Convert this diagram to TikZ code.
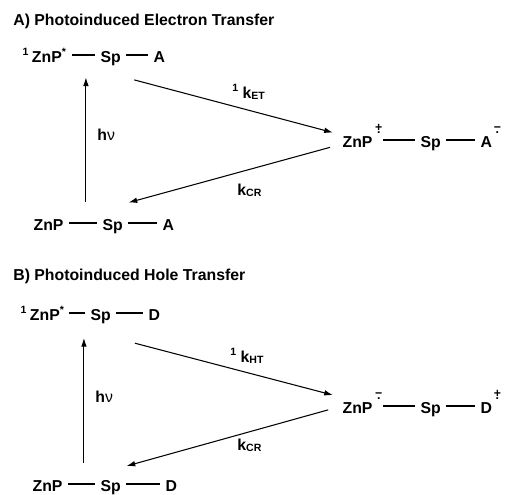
\documentclass[tikz,border=0pt]{standalone}
\usepackage{fontspec}
\setmainfont{Liberation Sans}
\usetikzlibrary{arrows.meta,positioning,calc}
% sign over dot for the radical ions
\newcommand{\radsup}[1]{\ooalign{\hfil\raisebox{9pt}{\scriptsize #1}\hfil\cr\hfil\raisebox{7.5pt}{\scriptsize .}\hfil\cr}}
\newcommand{\exZnP}{\textsuperscript{1}\kern1.5pt ZnP\textsuperscript{*}}
\tikzset{
  mol/.style={anchor=base west,inner xsep=3pt,inner ysep=0pt,text height=8pt,text depth=0pt,font=\fontsize{9}{11}\selectfont\bfseries},
  lbl/.style={anchor=base west,inner sep=0pt,font=\fontsize{9}{11}\selectfont\bfseries},
  bond/.style={line width=0.6pt},
  rate/.style={line width=0.6pt,-{Latex[length=5pt,width=3.2pt]}},
}

\begin{document}
\begin{tikzpicture}[x=0.02cm,y=-0.02cm]
  \useasboundingbox (0,0) rectangle (509,494);
  % A) electron transfer
  \node[lbl] (ttlA) at (13,25) {A) Photoinduced Electron Transfer};
  \node[mol] (aZnPex) at (17,62) {\exZnP};
  \node[mol] (aSpex) at (95,62) {Sp};
  \node[mol] (aAex) at (148,62) {A};
  \node[mol] (aZnPcs) at (337,147) {ZnP\kern1.5pt\radsup{+}};
  \node[mol] (aSpcs) at (415,147) {Sp};
  \node[mol] (aAcs) at (475,147) {A\kern1pt\radsup{−}};
  \node[mol] (aZnPg) at (28,230) {ZnP};
  \node[mol] (aSpg) at (97,230) {Sp};
  \node[mol] (aAg) at (157,230) {A};
  \node[lbl] (hvA) at (97,140) {h{\mdseries ν}};
  \node[lbl] (kETA) at (232,98) {\textsuperscript{1}\kern2pt k\textsubscript{ET}};
  \node[lbl] (kCRA) at (237,195) {k\textsubscript{CR}};
  \draw[rate] ($(hvA.west |- aZnPg.north)+(-6.3pt,8pt)$) -- ($(hvA.west |- aZnPex.south)+(-6.3pt,-8.5pt)$);
  \draw[rate] ([shift={(4.5pt,-10pt)}]aSpex.south east) -- ([xshift=-2.3pt]aZnPcs.north west);
  \draw[rate] ([xshift=-4pt]aZnPcs.south west) -- ([yshift=7.4pt]aSpg.north east);

  % B) hole transfer
  \node[lbl] (ttlB) at (13,280) {B) Photoinduced Hole Transfer};
  \node[mol] (bZnPex) at (15,320) {\exZnP};
  \node[mol] (bSpex) at (85,320) {Sp};
  \node[mol] (bDex) at (143,320) {D};
  \node[mol] (bZnPcs) at (337,413) {ZnP\kern1.5pt\radsup{−}};
  \node[mol] (bSpcs) at (415,413) {Sp};
  \node[mol] (bDcs) at (475,413) {D\kern1pt\radsup{+}};
  \node[mol] (bZnPg) at (27,491) {ZnP};
  \node[mol] (bSpg) at (95,491) {Sp};
  \node[mol] (bDg) at (160,491) {D};
  \node[lbl] (hvB) at (95,402) {h{\mdseries ν}};
  \node[lbl] (kHTB) at (230,362) {\textsuperscript{1}\kern2pt k\textsubscript{HT}};
  \node[lbl] (kCRB) at (237,450) {k\textsubscript{CR}};
  \draw[rate] ($(hvB.west |- bZnPg.north)+(-6.3pt,8pt)$) -- ($(hvB.west |- bZnPex.south)+(-6.3pt,-10pt)$);
  \draw[rate] ([shift={(10.5pt,-13pt)}]bSpex.south east) -- ([shift={(-2.3pt,2pt)}]bZnPcs.north west);
  \draw[rate] ([shift={(-5pt,2pt)}]bZnPcs.south west) -- ([yshift=6pt]bSpg.north east);

  % bonds
  \foreach \p/\q in {aZnPex/aSpex,aSpex/aAex,aSpcs/aAcs,aZnPg/aSpg,aSpg/aAg,
                     bSpex/bDex,bSpcs/bDcs,bZnPg/bSpg,bSpg/bDg}
    \draw[bond] (\p) -- (\q);
  \foreach \p/\q in {aZnPcs/aSpcs,bZnPcs/bSpcs}
    \draw[bond,shorten <=-3pt] (\p) -- (\q);
  \draw[bond,shorten <=-1pt] (bZnPex) -- (bSpex);
\end{tikzpicture}
\end{document}
